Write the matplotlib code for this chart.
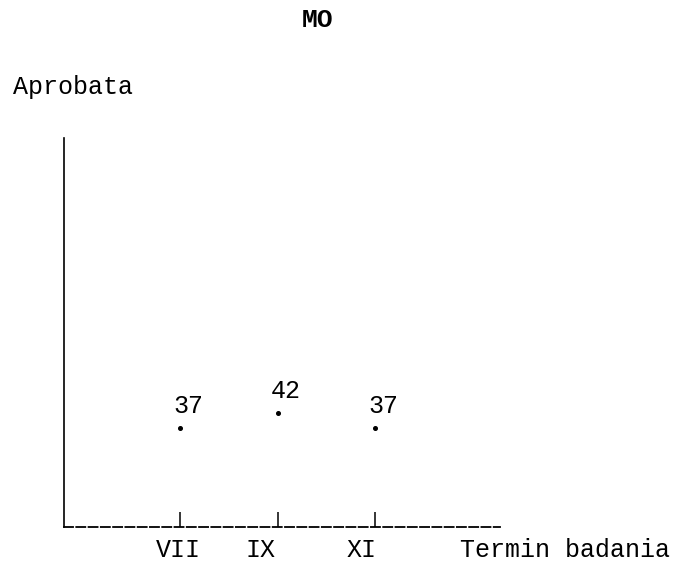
import numpy as np
import matplotlib
matplotlib.use("Agg")
import matplotlib.pyplot as plt
import matplotlib.transforms as mtransforms

# data
terms = ["VII", "IX", "XI"]
values = [37, 42, 37]
value_labels = ["37", "42", "37"]
positions = [1, 2, 3]

# typewriter offsets of the tick labels (points)
label_shift = [-1.5, -12.0, -9.5]

plt.rcParams['font.family'] = ['Liberation Mono', 'DejaVu Sans Mono']

fig = plt.figure(figsize=(6.88, 5.62), dpi=100)
ax = fig.add_axes([64 / 688, 1 - 527 / 562, (500 - 64) / 688, (527 - 138) / 562])

ax.plot(positions, values, 'o', color='black', markersize=2.6, linestyle='none')

for x, v, lab in zip(positions, values, value_labels):
    ax.annotate(lab, (x, v), xytext=(6, 16), textcoords='offset points',
                ha='center', va='center', fontsize=18, color='black')

ax.set_xlim(-0.19, 4.28)
ax.set_ylim(4, 134)

for s in ['top', 'right']:
    ax.spines[s].set_visible(False)
ax.spines['left'].set_linewidth(1.2)
ax.spines['bottom'].set_linewidth(1.3)
ax.spines['bottom'].set_linestyle((0, (5, 1.8)))

ax.set_yticks([])
ax.set_xticks(positions)
ax.set_xticklabels(terms, fontsize=18)
ax.tick_params(axis='x', direction='in', length=11, width=1.1, pad=8, colors='black')

for lbl, dx in zip(ax.get_xticklabels(), label_shift):
    lbl.set_transform(lbl.get_transform() + mtransforms.ScaledTranslation(dx / 72, 0, fig.dpi_scale_trans))

fig.text(318 / 688, 1 - 20 / 562, "MO", ha='center', va='center', fontsize=19, fontweight='bold')
fig.text(13 / 688, 1 - 87 / 562, "Aprobata", ha='left', va='center', fontsize=18)
fig.text(565 / 688, 1 - 550 / 562, "Termin badania", ha='center', va='center', fontsize=18)

fig.savefig("out.png", dpi=100)
